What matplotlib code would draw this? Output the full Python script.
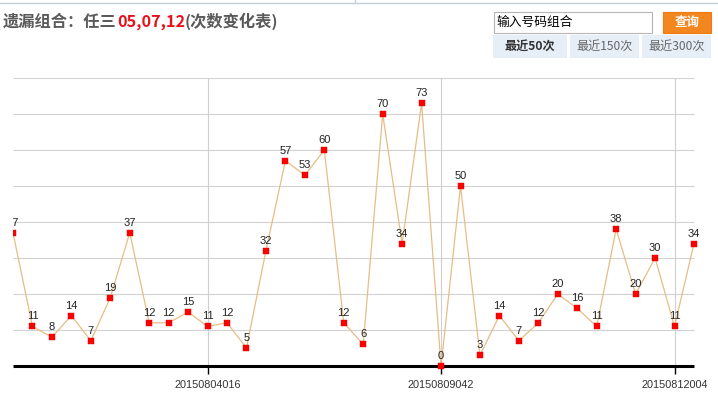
import matplotlib.pyplot as plt
from matplotlib.patches import Rectangle

plt.rcParams['font.family'] = ['Noto Sans CJK SC', 'DejaVu Sans']

# times each combination was missed, one per draw
values = [37, 11, 8, 14, 7, 19, 37, 12, 12, 15, 11, 12, 5, 32, 57, 53, 60, 12,
          6, 70, 34, 73, 0, 50, 3, 14, 7, 12, 20, 16, 11, 38, 20, 30, 11, 34]
tick_pos = [10, 22, 34]
tick_labels = ['20150804016', '20150809042', '20150812004']
grid_levels = [10, 20, 30, 40, 50, 60, 70, 80]

W, H = 718, 401
fig = plt.figure(figsize=(W / 100, H / 100), dpi=100)

# overlay in pixel coords for the page furniture
bg = fig.add_axes([0, 0, 1, 1])
bg.set_xlim(0, W)
bg.set_ylim(H, 0)
bg.axis('off')
bg.plot([0, W], [3, 3], color='#c3cfdb', lw=1)
bg.plot([355, 355], [0, 3], color='#c3cfdb', lw=1)

# title
t1 = bg.text(3, 22, '遗漏组合：任三', fontsize=11.7, fontweight='bold',
             color='#5a5a5a', va='center', ha='left')
t2 = bg.annotate('05,07,12', xy=(1, 0), xycoords=t1, va='bottom', ha='left',
                 fontsize=11.7, fontweight='bold', color='#e8101a')
bg.annotate('(次数变化表)', xy=(1, 0), xycoords=t2, va='bottom', ha='left',
            fontsize=11.7, fontweight='bold', color='#5a5a5a')

# search box + button
bg.add_patch(Rectangle((494, 12), 158, 21, facecolor='white', edgecolor='#b5b5b5', lw=0.8))
bg.text(496, 22.5, '输入号码组合', fontsize=9.2, color='black', va='center', ha='left')
bg.add_patch(Rectangle((663, 12), 48, 21, facecolor='#f4861f', edgecolor='#ef7a12', lw=0.8))
bg.text(687, 22.5, '查询', fontsize=9, color='white', fontweight='bold', va='center', ha='center')

# range buttons
for x0, x1, lab, bold in [(493, 567, '最近50次', True), (570, 639, '最近150次', False),
                          (642, 711, '最近300次', False)]:
    bg.add_patch(Rectangle((x0, 35), x1 - x0, 23, facecolor='#e6eef8', edgecolor='none'))
    bg.text((x0 + x1) / 2, 46.5, lab, fontsize=8.7, color='#333333' if bold else '#666666',
            fontweight='bold' if bold else 'normal', va='center', ha='center')

# chart
px_x = 19.457
px_y = 3.6
left_px, right_px = 12.5, 700
top_px, bot_px = 78, 369
ax = fig.add_axes([left_px / W, (H - bot_px) / H, (right_px - left_px) / W, (bot_px - top_px) / H])
ax.set_xlim(-0.5 / px_x, len(values) - 1 + 6 / px_x)
ax.set_ylim(-(bot_px - 366) / px_y, 80)
ax.axis('off')
ax.patch.set_alpha(0)

n = len(values)
ax.hlines(grid_levels, 0, n - 1, color='#d2d2d2', lw=0.8, zorder=1)
ax.vlines(tick_pos, 0, 80, color='#cfcfcf', lw=0.8, zorder=1)
ax.hlines(0, 0, n - 1, color='black', lw=2.2, zorder=2)
ax.vlines(tick_pos, -8 / px_y, 0, color='black', lw=1, zorder=2, clip_on=False)
for p, lab in zip(tick_pos, tick_labels):
    ax.text(p, -19 / px_y, lab, fontsize=7.8, color='#333333', ha='center', va='center',
            family=['Liberation Sans', 'DejaVu Sans'], clip_on=False)

xs = list(range(n))
ax.plot(xs, values, color='#e6bd85', lw=0.9, zorder=3)
ax.plot(xs, values, linestyle='none', marker='s', markersize=4.3, color='#ff0000',
        markeredgecolor='#e00000', markeredgewidth=0.3, zorder=4)
for x, v in zip(xs, values):
    ax.annotate(str(v), (x, v), xytext=(0, 5), textcoords='offset points',
                ha='center', va='baseline', fontsize=8, color='#222222',
                family=['Liberation Sans', 'DejaVu Sans'], clip_on=True)

fig.savefig('out.png', dpi=100)
